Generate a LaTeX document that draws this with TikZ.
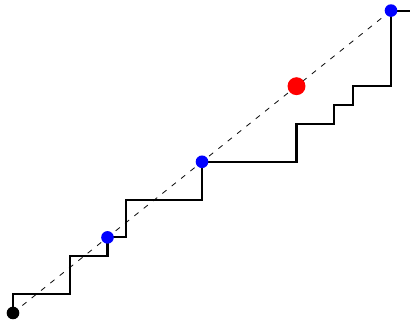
\documentclass[tikz,border=0pt]{standalone}
\begin{document}
\begin{tikzpicture}[x=0.5cm,y=0.5cm,
  stair/.style={line width=1.6pt},
  diag/.style={line width=0.6pt, dash pattern=on 4pt off 5pt},
  bluedot/.style={circle, fill=blue, inner sep=0pt, minimum size=9.5pt},
  reddot/.style={circle, fill=red, inner sep=0pt, minimum size=13.5pt},
  blackdot/.style={circle, fill=black, inner sep=0pt, minimum size=9.5pt}]
\useasboundingbox (-0.688,-0.37) rectangle (21.005,16.56);
\coordinate (s) at (0,0);
\coordinate (p1) at (5,4);
\coordinate (p2) at (10,8);
\coordinate (p3) at (20,16);
\coordinate (e) at (21,16);
\coordinate (r) at (15,12);
\draw[diag] (s) -- (p3);
\draw[stair] (s) -- (0,1) -- (3,1) -- (3,3) -- (5,3) -- (p1) -- (6,4) -- (6,6) -- (10,6) -- (p2)
  -- (15,8) -- (15,10) -- (17,10) -- (17,11) -- (18,11) -- (18,12) -- (20,12) -- (p3) -- (e);
\node[blackdot] (n0) at (s) {};
\node[bluedot] (n1) at (p1) {};
\node[bluedot] (n2) at (p2) {};
\node[bluedot] (n3) at (p3) {};
\node[reddot] (nr) at (r) {};
\end{tikzpicture}
\end{document}
